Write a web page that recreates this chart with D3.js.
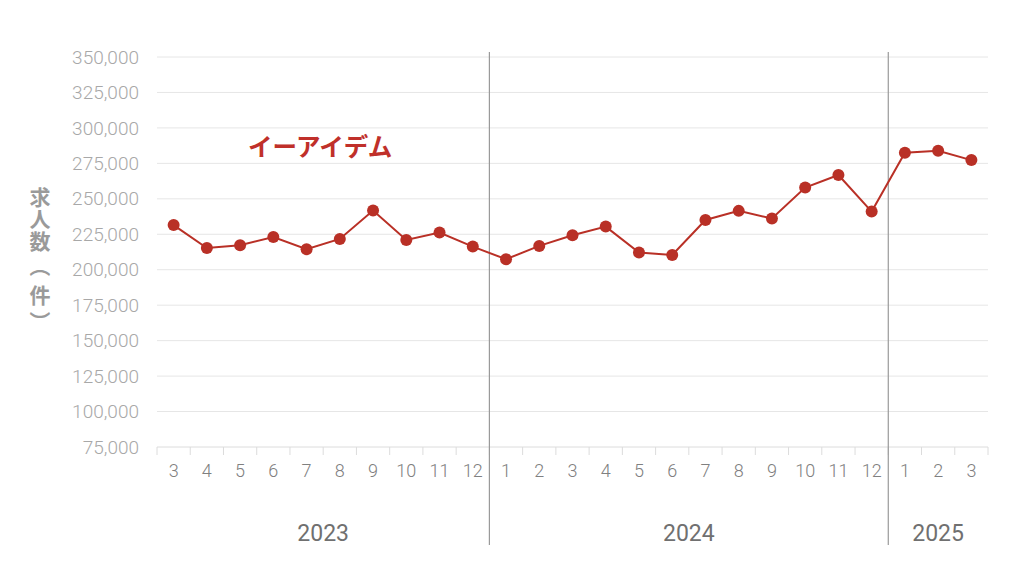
<!DOCTYPE html>
<html><head><meta charset="utf-8">
<script src="https://cdn.jsdelivr.net/npm/d3@7"></script>
<style>body{margin:0;background:#fff}svg{display:block}</style>
</head><body><svg id="c" width="1024" height="575"></svg>
<script>
const months = ["3","4","5","6","7","8","9","10","11","12","1","2","3","4","5","6","7","8","9","10","11","12","1","2","3"];
const years = [{label:"2023",count:10},{label:"2024",count:12},{label:"2025",count:3}];
const values = [231500,215300,217200,223100,214400,221700,241700,221000,226200,216300,207400,216800,224300,230400,212100,210400,235100,241500,236100,257900,266800,241000,282500,283900,277300];
const yTicks = [75000,100000,125000,150000,175000,200000,225000,250000,275000,300000,325000,350000];
const seriesName = "イーアイデム";
const yTitle = "求人数（件）";

const svg = d3.select("#c");
const L=157,R=988,T=57,B=447;
const x = d3.scaleBand().domain(d3.range(months.length)).range([L,R]);
const y = d3.scaleLinear().domain([75000,350000]).range([B,T]);
const jp = "'Noto Sans CJK JP','Noto Sans',sans-serif";
const lat = "Roboto,'Open Sans',sans-serif";

// gridlines
svg.append("g").selectAll("line").data(yTicks).join("line")
  .attr("x1",L).attr("x2",R).attr("y1",d=>y(d)).attr("y2",d=>y(d))
  .attr("stroke",d=>d===75000?"#dcdcdc":"#e6e6e6").attr("stroke-width",1);
// y tick labels
svg.append("g").selectAll("text").data(yTicks).join("text")
  .attr("x",139).attr("y",d=>y(d)).attr("dy","0.35em").attr("text-anchor","end")
  .attr("font-family",lat).attr("font-weight",300).attr("font-size",19).attr("fill","#a8a8a8")
  .text(d=>d3.format(",")(d));
// x ticks
const bounds = d3.range(months.length+1).map(i=>L+i*x.step());
svg.append("g").selectAll("line").data(bounds).join("line")
  .attr("x1",d=>d).attr("x2",d=>d).attr("y1",B).attr("y2",B+8)
  .attr("stroke","#dcdcdc");
svg.append("g").selectAll("text").data(months).join("text")
  .attr("x",(d,i)=>x(i)+x.bandwidth()/2).attr("y",471).attr("dy","0.35em")
  .attr("text-anchor","middle").attr("font-family",lat).attr("font-weight",300).attr("font-size",18).attr("fill","#808080")
  .text(d=>d);
// year separators and labels
let acc=0;
years.forEach((yr,k)=>{
  const x0 = L+acc*x.step(), x1 = L+(acc+yr.count)*x.step();
  svg.append("text").attr("x",(x0+x1)/2).attr("y",533).attr("dy","0.35em")
    .attr("text-anchor","middle").attr("font-family",lat).attr("font-size",23).attr("fill","#707070")
    .text(yr.label);
  acc+=yr.count;
  if(k<years.length-1){
    const xs = L+acc*x.step();
    svg.append("line").attr("x1",xs).attr("x2",xs).attr("y1",52).attr("y2",545)
      .attr("stroke","#9a9a9a").attr("stroke-width",1.2);
  }
});
// line
const line = d3.line().x((d,i)=>x(i)+x.bandwidth()/2).y(d=>y(d));
svg.append("path").datum(values).attr("d",line).attr("fill","none")
  .attr("stroke","#b93026").attr("stroke-width",2);
svg.append("g").selectAll("circle").data(values).join("circle")
  .attr("cx",(d,i)=>x(i)+x.bandwidth()/2).attr("cy",d=>y(d)).attr("r",6)
  .attr("fill","#b93026");
// series label
svg.append("text").attr("x",248).attr("y",147).attr("dy","0.35em")
  .attr("font-family",jp).attr("font-weight","bold").attr("font-size",24.5).attr("fill","#c0302a")
  .text(seriesName);
// y title: one text element, glyphs stacked, parentheses turned
const fs = 21, cx = 40;
const centers = [197,219,241,271,295,317];
const xs=[], ys=[], rs=[];
Array.from(yTitle).forEach((ch,i)=>{
  const c = centers[i];
  if(ch==="（"||ch==="）"){
    const a = (ch==="（"?0.72:0.28)*fs, b = -0.36*fs;
    xs.push(cx + b); ys.push(c - a); rs.push(90);
  } else {
    xs.push(cx - fs/2); ys.push(c + 0.38*fs); rs.push(0);
  }
});
svg.append("text").attr("font-family",jp).attr("font-weight","bold")
  .attr("font-size",fs).attr("fill","#9a9a9a")
  .attr("x",xs.join(" ")).attr("y",ys.join(" ")).attr("rotate",rs.join(" "))
  .text(yTitle);
</script></body></html>
